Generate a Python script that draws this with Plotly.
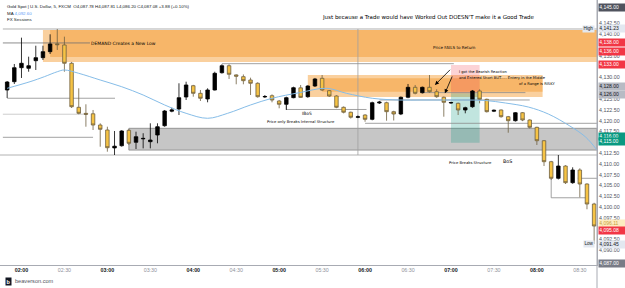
import plotly.graph_objects as go
import pandas as pd

DAY = "2025-10-21 "

# ---------------- data ----------------
candle_start = "01:50"
opens = [4127.11, 4129.03, 4132.27, 4132.13, 4133.89, 4134.59, 4135.98, 4137.80, 4137.53, 4133.29,
         4123.10, 4121.70, 4121.60, 4119.00, 4117.85, 4113.70, 4114.21, 4117.78, 4115.00, 4115.80,
         4115.14, 4116.69, 4118.84, 4122.20, 4122.71, 4125.49, 4128.10, 4126.34, 4125.03, 4127.11,
         4131.11, 4132.73, 4130.60, 4130.19, 4129.42, 4128.66, 4125.50, 4125.79, 4124.56, 4123.80,
         4125.33, 4127.60, 4125.56, 4128.03, 4129.81, 4126.95, 4125.72, 4123.10, 4121.96, 4120.80,
         4121.32, 4120.32, 4124.10, 4124.17, 4122.09, 4121.55, 4125.42, 4127.73, 4126.48, 4127.73,
         4126.71, 4125.42, 4124.10, 4124.03, 4122.48, 4123.24, 4126.88, 4124.95, 4122.20, 4122.48,
         4120.93, 4120.00, 4121.85, 4120.16, 4118.47, 4115.37, 4110.51, 4106.67, 4109.51, 4105.65,
         4108.59, 4105.35, 4100.72]
highs = [4129.19, 4133.13, 4139.22, 4134.82, 4137.36, 4137.36, 4140.00, 4141.23, 4139.45, 4133.60,
         4127.50, 4123.80, 4122.48, 4119.40, 4118.61, 4117.62, 4117.80, 4118.08, 4117.46, 4117.10,
         4119.40, 4119.40, 4122.48, 4123.01, 4128.66, 4129.03, 4128.30, 4127.11, 4127.50, 4131.34,
         4133.06, 4133.06, 4130.74, 4130.70, 4129.96, 4128.90, 4125.95, 4126.10, 4124.80, 4125.56,
         4127.87, 4128.27, 4128.20, 4129.90, 4130.58, 4127.10, 4125.90, 4123.30, 4122.10, 4121.20,
         4121.50, 4124.40, 4124.56, 4124.40, 4122.30, 4125.60, 4128.50, 4128.27, 4127.90, 4130.58,
         4127.27, 4125.60, 4124.40, 4124.20, 4123.24, 4127.11, 4127.27, 4125.10, 4122.60, 4122.60,
         4121.10, 4122.00, 4122.00, 4120.30, 4118.60, 4115.50, 4110.70, 4112.06, 4109.70, 4109.21,
         4108.98, 4105.50, 4101.00]
lows = [4125.26, 4128.50, 4129.89, 4131.34, 4131.74, 4134.05, 4135.44, 4136.37, 4131.34, 4122.94,
        4121.48, 4118.61, 4117.85, 4113.98, 4112.83, 4112.06, 4114.00, 4114.38, 4113.45, 4113.60,
        4113.60, 4114.77, 4118.60, 4121.95, 4121.32, 4124.79, 4125.56, 4124.56, 4124.26, 4127.00,
        4130.90, 4129.66, 4128.43, 4128.43, 4125.95, 4125.33, 4125.26, 4124.26, 4122.87, 4122.48,
        4125.20, 4125.30, 4125.30, 4127.80, 4126.90, 4125.50, 4122.90, 4121.70, 4120.50, 4120.60,
        4119.76, 4120.10, 4123.87, 4120.00, 4120.05, 4121.30, 4125.20, 4126.10, 4126.30, 4126.50,
        4125.30, 4120.93, 4123.90, 4121.32, 4121.71, 4123.00, 4124.03, 4121.90, 4122.00, 4120.70,
        4117.22, 4119.80, 4119.90, 4118.20, 4114.38, 4109.51, 4106.30, 4106.40, 4105.35, 4105.40,
        4102.27, 4099.50, 4091.45]
closes = [4128.96, 4132.27, 4133.29, 4132.73, 4134.59, 4135.98, 4137.76, 4137.60, 4133.29, 4123.24,
          4121.71, 4121.50, 4119.00, 4118.01, 4113.75, 4114.10, 4117.62, 4114.77, 4116.30, 4115.90,
          4115.53, 4118.61, 4122.25, 4122.50, 4125.33, 4128.27, 4126.34, 4125.19, 4127.11, 4130.97,
          4132.73, 4130.74, 4130.30, 4129.26, 4128.66, 4125.56, 4125.60, 4124.79, 4123.80, 4125.33,
          4127.64, 4125.40, 4128.03, 4129.66, 4127.11, 4125.72, 4123.10, 4121.96, 4120.80, 4120.90,
          4120.32, 4124.17, 4124.30, 4122.09, 4121.55, 4125.42, 4127.73, 4126.34, 4127.73, 4126.71,
          4125.56, 4124.26, 4124.20, 4122.48, 4123.01, 4126.88, 4124.95, 4122.09, 4122.40, 4120.93,
          4120.00, 4121.85, 4120.16, 4118.47, 4115.37, 4110.51, 4106.67, 4109.51, 4105.65, 4108.59,
          4105.35, 4100.72, 4095.62]

ma_times = ["01:50", "02:06", "02:16", "02:25", "02:30", "02:40", "02:55", "03:10", "03:25", "03:40",
            "03:55", "04:10", "04:24", "04:40", "04:55", "05:14", "05:33", "05:47", "06:05", "06:24",
            "06:39", "06:54", "07:09", "07:24", "07:38", "07:54", "08:08", "08:23", "08:34", "08:42"]
ma_values = [4127.50, 4129.03, 4130.19, 4131.34, 4131.74, 4130.97, 4129.42, 4127.87, 4125.95, 4123.64,
             4121.71, 4120.56, 4121.71, 4123.64, 4125.19, 4126.48, 4127.50, 4126.34, 4125.19, 4124.79,
             4124.79, 4124.79, 4124.79, 4124.68, 4124.10, 4123.17, 4121.55, 4118.78, 4116.23, 4113.22]

x_start, x_end = "01:45", "08:42"
y_low, y_high = 4086.6, 4147.94

# regular price ticks that stay visible next to the coloured labels
y_ticks = [4090.0, 4092.5, 4097.5, 4100.0, 4102.5, 4105.0, 4107.5, 4110.0, 4112.5, 4117.5,
           4120.0, 4122.5, 4125.0, 4130.0, 4135.0, 4140.0, 4142.5]

price_labels = [  # (price, text, background, text colour)
    (4146.3, "4,145.00", "#50535e", "#ffffff"),
    (4141.23, "4,141.23", "#e3e8f0", "#131722"),
    (4138.0, "4,138.00", "#f23645", "#ffffff"),
    (4136.0, "4,136.00", "#f23645", "#ffffff"),
    (4133.0, "4,133.00", "#f23645", "#ffffff"),
    (4128.0, "4,128.00", "#b8bbc4", "#131722"),
    (4126.0, "4,126.00", "#b8bbc4", "#131722"),
    (4116.3, "4,116.00", "#089981", "#ffffff"),
    (4115.1, "4,115.00", "#089981", "#ffffff"),
    (4096.1, "4,096.11", "#fdecc0", "#c9a13a"),
    (4094.7, "4,095.08", "#f23645", "#ffffff"),
    (4091.45, "4,091.45", "#e3e8f0", "#131722"),
    (4087.0, "4,087.00", "#787b86", "#ffffff"),
]

def T(hm):
    return DAY + hm

times = pd.date_range(T(candle_start), periods=len(opens), freq="5min")
END = T(x_end)
START = T(x_start)

fig = go.Figure()

# ---------------- zones ----------------
orange = "rgba(245,150,40,0.45)"
zones = [
    ("02:15", x_end, 4133.59, 4141.0, orange, None),
    ("02:20", x_end, 4134.75, 4141.0, orange, None),
    ("05:20", "08:04", 4125.5, 4130.6, orange, None),
    ("05:30", "08:04", 4126.7, 4129.8, orange, None),
    ("03:15", x_end, 4113.2, 4118.24, "#c6c6c6", "#858585"),
    ("07:00", "07:20", 4126.35, 4132.9, "rgba(242,54,69,0.22)", None),
    ("07:00", "07:20", 4114.9, 4126.35, "rgba(8,153,129,0.25)", None),
]
for x0, x1, y0, y1, fill, lc in zones:
    fig.add_shape(type="rect", xref="x", yref="y", x0=T(x0), x1=T(x1), y0=y0, y1=y1,
                  fillcolor=fill, line=dict(color=lc or "rgba(0,0,0,0)", width=0.8 if lc else 0),
                  layer="below")

lines = [  # (t0, t1, p0, p1, colour)
    ("01:47", x_end, 4141.23, 4141.23, "#9a9a9a"),
    ("01:47", "02:47:50", 4138.0, 4138.0, "#707070"),
    ("01:50", "03:05:20", 4125.2, 4125.2, "#8a8a8a"),
    ("01:47", "02:45:45", 4121.5, 4121.5, "#c0c0c0"),
    ("01:47", "02:50", 4116.16, 4116.16, "#8a8a8a"),
    (x_start, x_end, 4112.06, 4112.06, "#a0a0a0"),
    ("05:55", "05:55", 4112.06, 4141.23, "#a0a0a0"),
    ("04:20", "07:02", 4133.2, 4133.2, "#8a8a8a"),
    ("05:05", "05:05", 4124.6, 4122.6, "#8a8a8a"),
    ("05:05", "06:01", 4122.6, 4122.6, "#8a8a8a"),
    ("06:00", x_end, 4119.4, 4119.4, "#8a8a8a"),
    ("06:40", "07:52", 4126.5, 4126.5, "#8a8a8a"),
    ("06:10", "07:55", 4124.8, 4124.8, "#8a8a8a"),
    ("08:28:36", x_end, 4106.67, 4106.67, "#8a8a8a"),
    ("08:10", "08:10", 4106.67, 4102.16, "#8a8a8a"),
    ("08:10", "08:35", 4102.16, 4102.16, "#8a8a8a"),
]
for x0, x1, y0, y1, c in lines:
    fig.add_shape(type="line", xref="x", yref="y", x0=T(x0), x1=T(x1), y0=y0, y1=y1,
                  line=dict(color=c, width=0.8), layer="below")

# ---------------- traces ----------------
fig.add_trace(go.Scatter(x=[T(t) for t in ma_times], y=ma_values, mode="lines",
                         line=dict(color="#86bde8", width=1, shape="spline", smoothing=1.0),
                         hoverinfo="skip"))
fig.add_trace(go.Candlestick(
    x=times, open=opens, high=highs, low=lows, close=closes,
    increasing=dict(fillcolor="#000000", line=dict(color="#000000", width=0.8)),
    decreasing=dict(fillcolor="#f6c344", line=dict(color="#6e6040", width=0.8)),
    whiskerwidth=0, hoverinfo="skip"))

# ---------------- axes ----------------
xt = pd.date_range(T("02:00"), T("08:30"), freq="30min")
xtext = [f"<b>{t:%H:%M}</b>" if t.minute == 0 else f"<span style='color:#8f929b'>{t:%H:%M}</span>"
         for t in xt]

fig.update_layout(
    width=625, height=288, margin=dict(l=0, r=28, t=0, b=23),
    plot_bgcolor="#ffffff", paper_bgcolor="#ffffff", showlegend=False,
    font=dict(family="Liberation Sans", color="#131722"),
    xaxis=dict(type="date", range=[START, END], showgrid=False, zeroline=False,
               rangeslider=dict(visible=False), tickvals=list(xt), ticktext=xtext,
               tickfont=dict(size=5.3, color="#131722"), ticks="", showline=True,
               linecolor="#a8abb3", linewidth=1),
    yaxis=dict(side="right", range=[y_low, y_high], showgrid=False, zeroline=False,
               tickvals=y_ticks, ticktext=[f"{v:,.2f}" for v in y_ticks],
               tickfont=dict(size=5.3, color="#50535e"),
               ticks="", showline=True, linecolor="#a8abb3", linewidth=1),
)

# right axis line down to the bottom
fig.add_shape(type="line", xref="paper", yref="paper", x0=1, x1=1, y0=-0.09, y1=1,
              line=dict(color="#a8abb3", width=1))

# ---------------- price labels ----------------
for p, txt, bg, fg in price_labels:
    fig.add_annotation(xref="paper", yref="y", x=1, y=p, xanchor="left", xshift=1,
                       text=txt, showarrow=False, bgcolor=bg, borderpad=0.3, width=26,
                       align="left", font=dict(size=5.0, color=fg))
for p, txt in [(4141.23, "High"), (4091.45, "Low")]:
    fig.add_annotation(xref="paper", yref="y", x=1, y=p, xanchor="right", xshift=-2,
                       text=txt, showarrow=False, bgcolor="#e3e8f0", borderpad=0.4,
                       font=dict(size=4.6, color="#131722"))

# ---------------- header ----------------
ph = 265.0
def py(px):
    return 1 - px / ph
fig.add_annotation(xref="paper", yref="paper", x=5 / 597, y=py(6.5), xanchor="left", yanchor="middle",
                   showarrow=False, font=dict(size=4.4, color="#131722"),
                   text="Gold Spot | U.S. Dollar, 5, FXCM  O4,087.78 H4,087.81 L4,086.20 C4,087.08 +3.88 (+0.10%)")
fig.add_annotation(xref="paper", yref="paper", x=5 / 597, y=py(13.5), xanchor="left", yanchor="middle",
                   showarrow=False, font=dict(size=4.4, color="#131722"),
                   text="MA <span style='color:#5b9cf6'>4,092.60</span>")
fig.add_annotation(xref="paper", yref="paper", x=5 / 597, y=py(20), xanchor="left", yanchor="middle",
                   showarrow=False, font=dict(size=4.4, color="#131722"), text="FX Sessions")

# ---------------- chart notes ----------------
notes = [  # (time, price, text, size, anchor)
    ("06:44:36", 4143.89, "Just because a Trade would have Worked Out DOESN'T make it a Good Trade", 5.5, "center"),
    ("03:11:35", 4137.76, "DEMAND Creates a New Low", 4.5, "center"),
    ("07:02:40", 4137.0, "Price FAILS to Return", 4.1, "center"),
    ("07:04:25", 4131.35, "I got the Bearish Reaction", 3.7, "left"),
    ("07:04:25", 4129.9, "and Entered Short BUT..... Entery in the Middle", 3.7, "left"),
    ("08:13:55", 4128.5, "of a Range is RISKY", 3.7, "right"),
    ("05:19:24", 4121.71, "IBoS", 4.4, "center"),
    ("05:15:30", 4119.93, "Price only Breaks Internal Structure", 3.8, "center"),
    ("07:13:54", 4110.44, "Price Breaks Structure", 3.8, "center"),
    ("07:39:24", 4110.5, "BoS", 4.8, "center"),
]
for t, p, txt, s, anc in notes:
    fig.add_annotation(xref="x", yref="y", x=T(t), y=p, text=txt, showarrow=False,
                       xanchor=anc, yanchor="middle",
                       font=dict(family="DejaVu Sans", size=s, color="#000000"))

arrows = [("06:48:48", 4128.27, "07:00:24", 4132.13), ("06:55:45", 4126.34, "07:01:18", 4130.58)]
for hx, hy, tx, ty in arrows:
    fig.add_annotation(xref="x", yref="y", x=T(hx), y=hy, axref="x", ayref="y", ax=T(tx), ay=ty,
                       text="", showarrow=True, arrowhead=2, arrowsize=1, arrowwidth=0.8,
                       arrowcolor="#000000")

# ---------------- footer logo ----------------
fig.add_annotation(xref="paper", yref="paper", x=5 / 597, y=py(281), xanchor="left", yanchor="middle",
                   showarrow=False, text="<b>b</b>", bgcolor="#131722", borderpad=0.6,
                   font=dict(size=5.5, color="#ffffff"))
fig.add_annotation(xref="paper", yref="paper", x=13 / 597, y=py(281), xanchor="left", yanchor="middle",
                   showarrow=False, text="beaverson.com", font=dict(size=5.6, color="#50535e"))

fig.write_html("out.html", config={"displayModeBar": False})
